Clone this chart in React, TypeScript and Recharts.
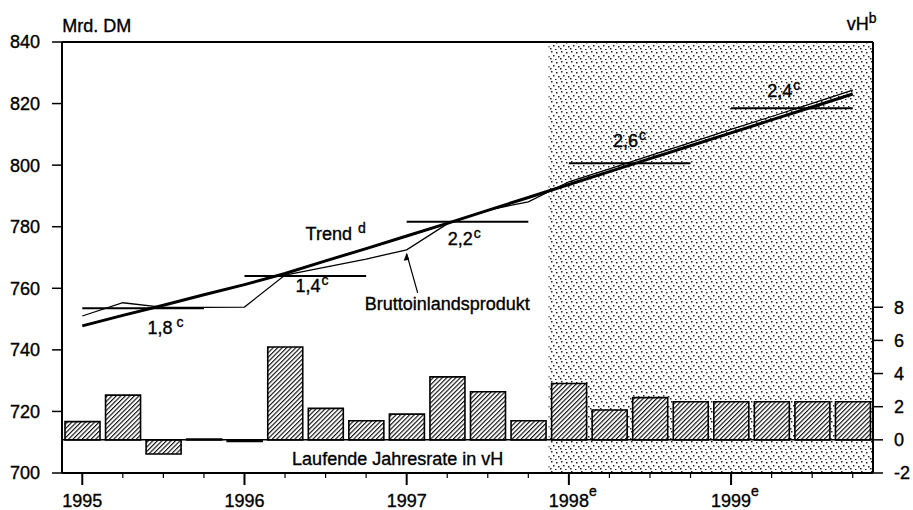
import React from 'react';
import {
  ComposedChart,
  Bar,
  Line,
  XAxis,
  YAxis,
  ReferenceArea,
  ReferenceLine,
  ReferenceDot,
} from 'recharts';

const FONT = '"Liberation Sans", Arial, Helvetica, sans-serif';
const TXT = { fontSize: 18, fontFamily: FONT, fill: '#000', stroke: '#000', strokeWidth: 0.35 };

const years = ['1995', '1996', '1997', '1998', '1999'];
const forecastYears = ['1998', '1999'];
const quarters = years.flatMap((y) => ['1', '2', '3', '4'].map((q) => `${y}-${q}`));

// Bruttoinlandsprodukt, Mrd. DM (quarterly, seasonally adjusted)
const gdp = [
  751.0, 755.3, 753.8, 753.8, 753.9, 764.3, 766.9, 769.5, 772.5, 780.9,
  785.4, 788.1, 794.6, 798.8, 803.1, 807.3, 811.6, 815.8, 820.1, 824.4,
];
// Trend, Mrd. DM
const trend = [
  747.8, 751.2, 754.5, 757.9, 761.2, 764.8, 768.9, 772.9, 777.0, 781.1,
  785.3, 789.5, 793.7, 797.9, 802.1, 806.3, 810.5, 814.7, 818.9, 823.1,
];
// Laufende Jahresrate in vH
const growth = [
  1.1, 2.7, -0.85, 0.05, -0.1, 5.6, 1.9, 1.15, 1.55, 3.8,
  2.9, 1.15, 3.4, 1.8, 2.55, 2.3, 2.3, 2.3, 2.3, 2.3,
];
// annual averages (Mrd. DM) and annual growth labels
const annualAvg = [753.5, 764.0, 781.6, 800.6, 818.5];
const annualRate = ['1,8', '1,4', '2,2', '2,6', '2,4'];

const leftTicks = [700, 720, 740, 760, 780, 800, 820, 840];
const rightTicks = [-2, 0, 2, 4, 6, 8];

const data = quarters.map((q, i) => {
  const row: Record<string, any> = { q, gdp: gdp[i], trend: trend[i], growth: growth[i] };
  const yi = Math.floor(i / 4);
  row[`avg${years[yi]}`] = annualAvg[yi];
  return row;
});

// label placement relative to the 3rd quarter of each year
const rateLabelOffset = [
  { dx: -16, dy: 26 },
  { dx: -30, dy: 16 },
  { dx: -40, dy: 23 },
  { dx: -37, dy: -16 },
  { dx: -45, dy: -11 },
];

function QuarterTick(props: any) {
  const { x, y, payload } = props;
  const [year, q] = String(payload.value).split('-');
  const major = q === '1';
  return (
    <g>
      <line x1={x} x2={x} y1={y} y2={y + (major ? 12 : 5)} stroke="#000" strokeWidth={major ? 2 : 1.2} />
      {major && (
        <text x={x} y={y + 34} textAnchor="middle" {...TXT}>
          {year}
        </text>
      )}
      {major && forecastYears.includes(year) && (
        <text x={x + 20} y={y + 23} {...TXT} fontSize={14}>
          e
        </text>
      )}
    </g>
  );
}

function RateLabel(text: string, dx: number, dy: number) {
  return (p: any) => (
    <text x={p.cx + dx} y={p.cy + dy} {...TXT}>
      {text}
      <tspan dx={text === '1,8' ? 4 : 1} dy={-7} fontSize={14}>
        c
      </tspan>
    </text>
  );
}

export default function App() {
  return (
    <div style={{ position: 'absolute', left: 0, top: 0, background: '#fff' }}>
      <ComposedChart
        width={913}
        height={510}
        data={data}
        margin={{ top: 42, right: 0, bottom: 0, left: 0 }}
      >
        <defs>
          <pattern id="stipple" width="10" height="10" patternUnits="userSpaceOnUse">
            <rect x="1" y="1" width="1.5" height="1.5" fill="#222" />
            <rect x="6" y="2" width="1.5" height="1.5" fill="#222" />
            <rect x="3" y="5" width="1.5" height="1.5" fill="#222" />
            <rect x="8" y="6" width="1.5" height="1.5" fill="#222" />
            <rect x="0" y="8" width="1.5" height="1.5" fill="#222" />
            <rect x="5" y="9" width="1.5" height="1.5" fill="#222" />
          </pattern>
          <pattern id="hatch" width="3.2" height="3.2" patternUnits="userSpaceOnUse" patternTransform="rotate(45)">
            <rect width="3.2" height="3.2" fill="#fff" />
            <line x1="0" y1="0" x2="0" y2="3.2" stroke="#111" strokeWidth="2.3" />
          </pattern>
        </defs>

        <XAxis
          dataKey="q"
          interval={0}
          height={37}
          tickLine={false}
          tickSize={0}
          tickMargin={0}
          axisLine={{ stroke: '#000', strokeWidth: 2 }}
          tick={<QuarterTick />}
        />
        <YAxis
          yAxisId="left"
          orientation="left"
          width={62}
          domain={[700, 840]}
          ticks={leftTicks}
          tickSize={10}
          tickMargin={12}
          tickLine={{ stroke: '#000', strokeWidth: 1.5 }}
          axisLine={{ stroke: '#000', strokeWidth: 2 }}
          tick={TXT}
          allowDataOverflow
        />
        <YAxis
          yAxisId="right"
          orientation="right"
          width={40}
          domain={[-2, 24]}
          ticks={rightTicks}
          tickSize={10}
          tickMargin={11}
          tickLine={{ stroke: '#000', strokeWidth: 1.5 }}
          axisLine={{ stroke: '#000', strokeWidth: 2 }}
          tick={TXT}
          allowDataOverflow
        />

        <ReferenceArea yAxisId="left" x1="1998-1" x2="1999-4" fill="url(#stipple)" fillOpacity={1} stroke="none" />
        <ReferenceLine yAxisId="left" y={840} stroke="#000" strokeWidth={2} />
        <ReferenceLine yAxisId="right" y={0} stroke="#000" strokeWidth={1.5} />

        <Bar
          yAxisId="right"
          dataKey="growth"
          barSize={35}
          fill="url(#hatch)"
          stroke="#000"
          strokeWidth={1.6}
          isAnimationActive={false}
        />

        {years.map((y) => (
          <Line
            key={y}
            yAxisId="left"
            dataKey={`avg${y}`}
            stroke="#000"
            strokeWidth={2}
            dot={false}
            connectNulls={false}
            isAnimationActive={false}
          />
        ))}
        <Line yAxisId="left" dataKey="trend" stroke="#000" strokeWidth={3} dot={false} isAnimationActive={false} />
        <Line yAxisId="left" dataKey="gdp" stroke="#000" strokeWidth={1.3} dot={false} isAnimationActive={false} />

        {years.map((y, i) => (
          <ReferenceDot
            key={`rate-${y}`}
            yAxisId="left"
            x={`${y}-3`}
            y={annualAvg[i]}
            r={0}
            shape={RateLabel(annualRate[i], rateLabelOffset[i].dx, rateLabelOffset[i].dy)}
          />
        ))}

        <ReferenceDot
          yAxisId="left"
          x="1996-3"
          y={trend[6]}
          r={0}
          shape={(p: any) => (
            <text x={p.cx - 20} y={p.cy - 21} {...TXT}>
              Trend
              <tspan dx={6} dy={-7} fontSize={14}>
                d
              </tspan>
            </text>
          )}
        />
        <ReferenceDot
          yAxisId="left"
          x="1997-1"
          y={gdp[8]}
          r={0}
          shape={(p: any) => (
            <g>
              <line x1={p.cx + 11} y1={p.cy + 43} x2={p.cx} y2={p.cy + 4} stroke="#000" strokeWidth={1.2} />
              <path d={`M ${p.cx - 3} ${p.cy + 11} L ${p.cx} ${p.cy + 3} L ${p.cx + 2.5} ${p.cy + 10} Z`} fill="#000" />
              <text x={p.cx - 42} y={p.cy + 60} {...TXT}>
                Bruttoinlandsprodukt
              </text>
            </g>
          )}
        />
        <ReferenceDot
          yAxisId="right"
          x="1997-1"
          y={-1.5}
          r={0}
          shape={(p: any) => (
            <text x={p.cx - 9} y={p.cy} textAnchor="middle" {...TXT}>
              Laufende Jahresrate in vH
            </text>
          )}
        />
        <ReferenceDot
          yAxisId="left"
          x="1995-1"
          y={840}
          r={0}
          shape={(p: any) => (
            <text x={p.cx - 20} y={p.cy - 10} {...TXT}>
              Mrd. DM
            </text>
          )}
        />
        <ReferenceDot
          yAxisId="left"
          x="1999-4"
          y={840}
          r={0}
          shape={(p: any) => (
            <text x={p.cx - 6} y={p.cy - 12} {...TXT}>
              vH
              <tspan dy={-7} fontSize={14}>
                b
              </tspan>
            </text>
          )}
        />
      </ComposedChart>
    </div>
  );
}
